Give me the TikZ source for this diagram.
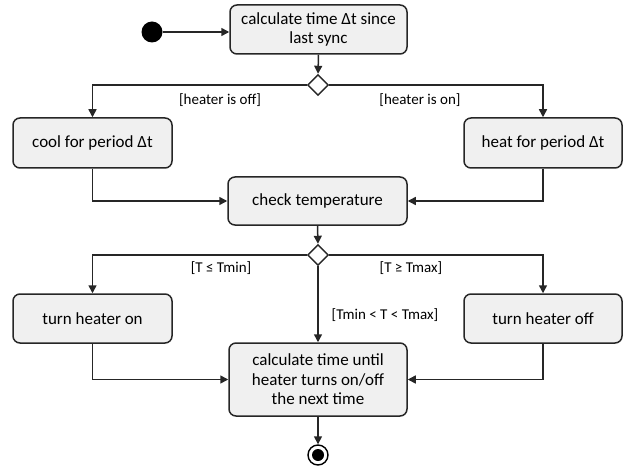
\documentclass[tikz,border=0pt]{standalone}
\usepackage{fontspec}
\setmainfont{Carlito}
\usetikzlibrary{shapes.geometric,arrows.meta}
\begin{document}
\begin{tikzpicture}[x=1pt,y=-1pt,
  act/.style={draw=black!85, line width=1.5pt, rounded corners=7pt, fill=black!6, align=center, inner sep=2pt, font=\fontsize{17}{19.5}\selectfont},
  dec/.style={diamond, draw=black!85, line width=1.4pt, fill=white, minimum width=21pt, minimum height=21pt, inner sep=0pt},
  flow/.style={draw=black!85, line width=1.5pt, -{Triangle[length=8pt,width=8pt]}},
  guard/.style={font=\fontsize{15}{17}\selectfont, inner sep=0pt}]
\useasboundingbox (0,0) rectangle (628,470);
\node[act, minimum width=177pt, minimum height=49pt] (calc) at (318.5,29.5) {calculate time Δt since\\last sync};
\node[circle, fill=black, minimum size=21pt, inner sep=0pt] (start) at (152,32) {};
\node[dec] (d1) at (318,85) {};
\node[act, minimum width=159pt, minimum height=50pt] (cool) at (92.5,143) {cool for period Δt};
\node[act, minimum width=158pt, minimum height=50pt] (heat) at (543,143) {heat for period Δt};
\node[act, minimum width=179pt, minimum height=48pt] (check) at (317.5,201) {check temperature};
\node[dec] (d2) at (318,255) {};
\node[act, minimum width=159pt, minimum height=49pt] (on) at (92.5,318.5) {turn heater on};
\node[act, minimum width=158pt, minimum height=49pt] (off) at (543,318.5) {turn heater off};
\node[act, minimum width=178pt, minimum height=73pt] (final) at (318,379.5) {calculate time until\\heater turns on/off\\the next time};
\node[circle, draw=black, line width=1.4pt, fill=white, minimum size=20pt, inner sep=0pt] (end) at (318,455) {};
\node[circle, fill=black, minimum size=12pt, inner sep=0pt] (endin) at (end) {};

\draw[flow] (start) -- (start -| calc.west);
\draw[flow] (calc.south) -- (d1.north);
\draw[flow] (d1.west) -| (cool.north);
\draw[flow] (d1.east) -| (heat.north);
\draw[flow] (cool.south) |- (check.west);
\draw[flow] (heat.south) |- (check.east);
\draw[flow] (check.south) -- (d2.north);
\draw[flow] (d2.west) -| (on.north);
\draw[flow] (d2.east) -| (off.north);
\draw[flow] (d2.south) -- (final.north);
\draw[flow] (on.south) |- (final.west);
\draw[flow] (off.south) |- (final.east);
\draw[flow] (final.south) -- (end.north);

\node[guard] (g1) at (220,100) {[heater is off]};
\node[guard] (g2) at (420,100) {[heater is on]};
\node[guard] (g3) at (221,268) {[T ≤ Tmin]};
\node[guard] (g4) at (411,268) {[T ≥ Tmax]};
\node[guard] (g5) at (385,315) {[Tmin < T < Tmax]};
\end{tikzpicture}
\end{document}
